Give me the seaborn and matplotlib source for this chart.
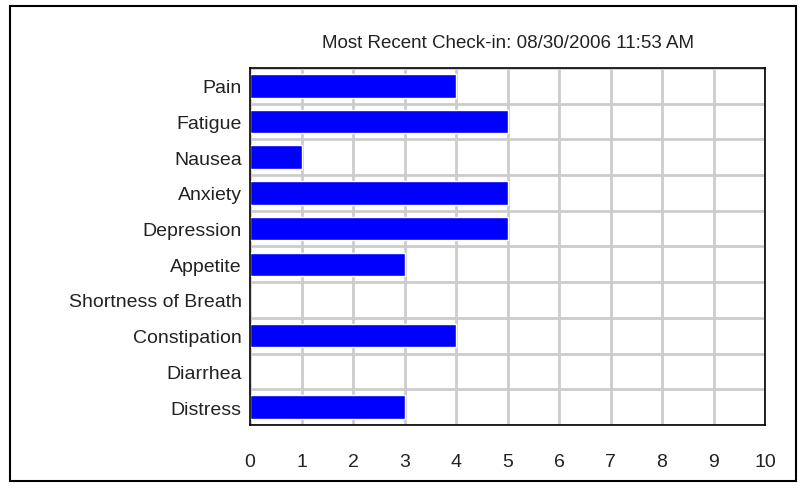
import matplotlib
matplotlib.use("Agg")
import matplotlib.pyplot as plt
from matplotlib.patches import Rectangle
from matplotlib.ticker import MultipleLocator
import seaborn as sns
import pandas as pd

# data
symptoms = ["Pain", "Fatigue", "Nausea", "Anxiety", "Depression", "Appetite",
            "Shortness of Breath", "Constipation", "Diarrhea", "Distress"]
scores = [4, 5, 1, 5, 5, 3, 0, 4, 0, 3]
title = "Most Recent Check-in: 08/30/2006 11:53 AM"

df = pd.DataFrame({"Symptom": symptoms, "Score": scores})

sns.set_style("white")
plt.rcParams["font.family"] = ["Liberation Sans", "DejaVu Sans"]

fig = plt.figure(figsize=(8.04, 4.89), dpi=100)
ax = fig.add_axes([0.311, 0.129, 0.6405, 0.730])

sns.barplot(data=df, x="Score", y="Symptom", color="#0000ff", width=0.66,
            saturation=1, ax=ax, zorder=3)

ax.set_xlim(0, 10)
ax.set_ylim(len(symptoms) - 0.5, -0.5)
ax.xaxis.set_major_locator(MultipleLocator(1))
ax.set_yticks(range(len(symptoms)))
ax.set_yticks([i - 0.5 for i in range(len(symptoms) + 1)], minor=True)
ax.set_yticklabels(symptoms)

# grid: vertical at integers, horizontal between categories
ax.grid(axis="x", which="major", color="#cccccc", linewidth=2, zorder=0)
ax.grid(axis="y", which="minor", color="#cccccc", linewidth=2, zorder=0)
ax.set_axisbelow(True)

ax.tick_params(axis="x", which="major", length=5, width=2, color="#cccccc",
               pad=15, labelsize=14, labelcolor="#222222")
ax.tick_params(axis="y", which="major", length=0, pad=6, labelsize=14,
               labelcolor="#222222")
ax.tick_params(axis="y", which="minor", length=5, width=2, color="#cccccc")

for s in ax.spines.values():
    s.set_color("black")
    s.set_linewidth(1.2)
    s.set_zorder(4)

ax.set_xlabel("")
ax.set_ylabel("")
ax.set_title(title, fontsize=13.5, pad=15, color="#222222")

fig.patches.append(Rectangle((10 / 804, 7 / 489), 786 / 804, 475 / 489,
                             transform=fig.transFigure, fill=False,
                             edgecolor="black", linewidth=1.5))

fig.savefig("out.png", dpi=100)
